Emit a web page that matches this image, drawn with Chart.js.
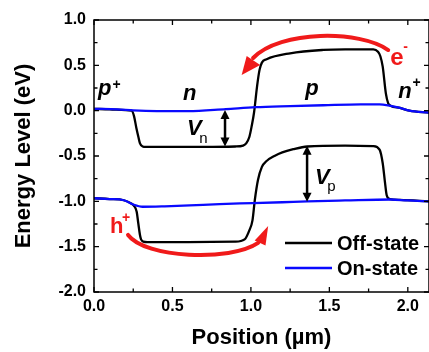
<!DOCTYPE html>
<html>
<head>
<meta charset="utf-8">
<script src="https://cdn.jsdelivr.net/npm/chart.js@4.4.1/dist/chart.umd.min.js"></script>
<style>
html,body{margin:0;padding:0;background:#fff;}
#c{display:block;}
</style>
</head>
<body>
<canvas id="c" width="429" height="352"></canvas>
<script>
// ---- data (position in µm, energy in eV) ----
const offUpperPos = [0, 0.10, 0.20, 0.24, 0.255, 0.27, 0.283, 0.293, 0.31, 0.33, 0.50, 0.70, 0.90, 0.95, 0.97, 0.99, 1.005, 1.02, 1.04, 1.055, 1.07, 1.10, 1.25, 1.46, 1.60, 1.78, 1.81, 1.825, 1.84, 1.86, 1.875, 1.89, 1.95, 2.01, 2.135];
const offUpperE   = [0.02, 0.015, 0.005, 0.00, -0.06, -0.19, -0.29, -0.36, -0.395, -0.40, -0.40, -0.40, -0.395, -0.385, -0.36, -0.29, -0.17, -0.02, 0.28, 0.45, 0.53, 0.567, 0.633, 0.67, 0.677, 0.677, 0.65, 0.60, 0.485, 0.19, 0.08, 0.055, 0.03, 0.00, -0.022];

const offLowerPos = [0, 0.10, 0.19, 0.24, 0.255, 0.272, 0.282, 0.293, 0.30, 0.314, 0.34, 0.60, 0.90, 0.96, 0.99, 1.01, 1.025, 1.045, 1.07, 1.10, 1.15, 1.20, 1.27, 1.36, 1.60, 1.78, 1.82, 1.84, 1.855, 1.865, 1.885, 1.95, 2.135];
const offLowerE   = [-0.966, -0.975, -0.988, -1.027, -1.05, -1.114, -1.239, -1.371, -1.42, -1.445, -1.45, -1.45, -1.445, -1.42, -1.32, -1.21, -0.985, -0.765, -0.62, -0.555, -0.50, -0.46, -0.425, -0.395, -0.385, -0.39, -0.43, -0.58, -0.80, -0.93, -0.975, -0.985, -1.00];

const onUpperPos = [0, 0.15, 0.25, 0.40, 0.60, 0.84, 1.03, 1.25, 1.46, 1.70, 1.82, 1.89, 1.95, 2.01, 2.135];
const onUpperE   = [0.02, 0.015, 0.003, -0.004, -0.004, 0.018, 0.038, 0.05, 0.06, 0.07, 0.07, 0.052, 0.03, 0.00, -0.022];

const onLowerPos = [0, 0.10, 0.19, 0.25, 0.31, 0.45, 0.61, 0.80, 1.01, 1.20, 1.36, 1.60, 1.89, 2.00, 2.135];
const onLowerE   = [-0.966, -0.975, -0.988, -1.035, -1.06, -1.055, -1.045, -1.03, -1.02, -1.01, -1.0, -0.99, -0.98, -0.99, -1.0];

const xTickValues = [0, 0.5, 1.0, 1.5, 2.0];
const yTickValues = [-2.0, -1.5, -1.0, -0.5, 0.0, 0.5, 1.0];
const seriesNames = ['Off-state', 'On-state'];

const FONT = "'Liberation Sans', Arial, sans-serif";
const BLACK = '#000000';
const BLUE = '#0a0aff';
const RED = '#f01a1a';

function pts(xs, ys) { return xs.map((x, i) => ({x: x, y: ys[i]})); }

// ---- annotations (in data units) ----
const texts = [
  {t: 'p', x: 0.026, y: 0.173, size: 22, style: 'italic bold', color: BLACK},
  {t: '+', x: 0.118, y: 0.280, size: 14, style: 'bold', color: BLACK, mid: true},
  {t: 'n', x: 0.568, y: 0.118, size: 22, style: 'italic bold', color: BLACK},
  {t: 'p', x: 1.346, y: 0.173, size: 22, style: 'italic bold', color: BLACK},
  {t: 'n', x: 1.939, y: 0.140, size: 22, style: 'italic bold', color: BLACK},
  {t: '+', x: 2.030, y: 0.305, size: 14, style: 'bold', color: BLACK, mid: true},
  {t: 'e', x: 1.888, y: 0.504, size: 24, style: 'bold', color: RED},
  {t: '-', x: 1.971, y: 0.702, size: 14, style: 'bold', color: RED, mid: true},
  {t: 'h', x: 0.102, y: -1.350, size: 22, style: 'bold', color: RED},
  {t: '+', x: 0.179, y: -1.184, size: 14, style: 'bold', color: RED, mid: true},
  {t: 'V', x: 0.593, y: -0.268, size: 22, style: 'italic bold', color: BLACK},
  {t: 'n', x: 0.670, y: -0.356, size: 15, style: 'normal', color: BLACK},
  {t: 'V', x: 1.409, y: -0.807, size: 22, style: 'italic bold', color: BLACK},
  {t: 'p', x: 1.486, y: -0.886, size: 15, style: 'normal', color: BLACK}
];
const doubleArrows = [
  {x: 0.835, y1: 0.007, y2: -0.395},
  {x: 1.358, y1: -0.387, y2: -1.005}
];
const redArcs = [
  {p0: [1.875, 0.669], c1: [1.696, 0.890], c2: [1.186, 0.890], p3: [1.014, 0.581],
   head: [[0.941, 0.393], [0.973, 0.603], [1.059, 0.504]]},
  {p0: [0.217, -1.371], c1: [0.325, -1.625], c2: [0.867, -1.669], p3: [1.046, -1.459],
   head: [[1.110, -1.272], [1.024, -1.431], [1.093, -1.488]]}
];

const annotPlugin = {
  id: 'annot',
  afterDatasetsDraw(chart) {
    const ctx = chart.ctx, xs = chart.scales.x, ys = chart.scales.y;
    const X = v => xs.getPixelForValue(v), Y = v => ys.getPixelForValue(v);
    ctx.save();
    redArcs.forEach(a => {
      ctx.strokeStyle = RED; ctx.fillStyle = RED; ctx.lineWidth = 4; ctx.lineCap = 'round';
      ctx.beginPath();
      ctx.moveTo(X(a.p0[0]), Y(a.p0[1]));
      ctx.bezierCurveTo(X(a.c1[0]), Y(a.c1[1]), X(a.c2[0]), Y(a.c2[1]), X(a.p3[0]), Y(a.p3[1]));
      ctx.stroke();
      ctx.beginPath();
      ctx.moveTo(X(a.head[0][0]), Y(a.head[0][1]));
      ctx.lineTo(X(a.head[1][0]), Y(a.head[1][1]));
      ctx.lineTo(X(a.head[2][0]), Y(a.head[2][1]));
      ctx.closePath(); ctx.fill();
    });
    doubleArrows.forEach(a => {
      const px = X(a.x), t = Y(a.y1), b = Y(a.y2), hl = 9, hw = 4.5;
      ctx.strokeStyle = BLACK; ctx.fillStyle = BLACK; ctx.lineWidth = 2.5; ctx.lineCap = 'butt';
      ctx.beginPath(); ctx.moveTo(px, t + hl - 1); ctx.lineTo(px, b - hl + 1); ctx.stroke();
      ctx.beginPath(); ctx.moveTo(px, t); ctx.lineTo(px - hw, t + hl); ctx.lineTo(px + hw, t + hl); ctx.closePath(); ctx.fill();
      ctx.beginPath(); ctx.moveTo(px, b); ctx.lineTo(px - hw, b - hl); ctx.lineTo(px + hw, b - hl); ctx.closePath(); ctx.fill();
    });
    texts.forEach(o => {
      ctx.fillStyle = o.color;
      ctx.font = o.style + ' ' + o.size + 'px ' + FONT;
      ctx.textAlign = 'left';
      ctx.textBaseline = o.mid ? 'middle' : 'alphabetic';
      ctx.fillText(o.t, X(o.x), Y(o.y));
    });
    ctx.restore();
  },
  afterDraw(chart) {
    const ctx = chart.ctx, a = chart.chartArea, xs = chart.scales.x, ys = chart.scales.y;
    ctx.save();
    ctx.strokeStyle = '#000'; ctx.lineWidth = 1.5;
    ctx.strokeRect(a.left, a.top, a.right - a.left, a.bottom - a.top);
    ctx.lineWidth = 1.3;
    for (let v = xs.min; v <= xs.max + 1e-9; v += 0.25) {
      const px = xs.getPixelForValue(v);
      const L = (Math.abs(v / 0.5 - Math.round(v / 0.5)) < 1e-6) ? 5 : 3.5;
      ctx.beginPath();
      ctx.moveTo(px, a.bottom); ctx.lineTo(px, a.bottom - L);
      ctx.moveTo(px, a.top); ctx.lineTo(px, a.top + L);
      ctx.stroke();
    }
    for (let v = ys.min; v <= ys.max + 1e-9; v += 0.25) {
      const py = ys.getPixelForValue(v);
      const L = (Math.abs(v / 0.5 - Math.round(v / 0.5)) < 1e-6) ? 5 : 3.5;
      ctx.beginPath();
      ctx.moveTo(a.left, py); ctx.lineTo(a.left + L, py);
      ctx.moveTo(a.right, py); ctx.lineTo(a.right - L, py);
      ctx.stroke();
    }
    const lx1 = 285, lx2 = 332, tx = 337;
    const rows = [{name: seriesNames[0], color: BLACK, y: 243}, {name: seriesNames[1], color: BLUE, y: 268}];
    ctx.font = 'bold 20px ' + FONT; ctx.textAlign = 'left'; ctx.textBaseline = 'middle';
    rows.forEach(r => {
      ctx.strokeStyle = r.color; ctx.lineWidth = 2.5;
      ctx.beginPath(); ctx.moveTo(lx1, r.y); ctx.lineTo(lx2, r.y); ctx.stroke();
      ctx.fillStyle = '#000'; ctx.fillText(r.name, tx, r.y + 1);
    });
    ctx.restore();
  }
};

const common = {pointRadius: 0, borderWidth: 2.3, fill: false, cubicInterpolationMode: 'monotone'};

new Chart(document.getElementById('c'), {
  type: 'line',
  data: {
    datasets: [
      Object.assign({label: seriesNames[0], data: pts(offUpperPos, offUpperE), borderColor: BLACK, order: 1}, common),
      Object.assign({label: seriesNames[0], data: pts(offLowerPos, offLowerE), borderColor: BLACK, order: 1}, common),
      Object.assign({label: seriesNames[1], data: pts(onUpperPos, onUpperE), borderColor: BLUE, order: 0}, common),
      Object.assign({label: seriesNames[1], data: pts(onLowerPos, onLowerE), borderColor: BLUE, order: 0}, common)
    ]
  },
  options: {
    responsive: false,
    animation: false,
    events: [],
    layout: {padding: {top: 20, right: 0, left: 0, bottom: 0}},
    plugins: {legend: {display: false}, tooltip: {enabled: false}},
    scales: {
      x: {
        type: 'linear', min: 0, max: 2.135,
        grid: {display: false, drawTicks: false},
        border: {display: false},
        afterBuildTicks: s => { s.ticks = xTickValues.map(v => ({value: v})); },
        afterFit: s => { s.height = 60; },
        ticks: {color: '#000', padding: 5, maxRotation: 0, autoSkip: false,
                font: {family: FONT, size: 16, weight: 'bold'},
                callback: v => Number(v).toFixed(1)},
        title: {display: true, text: 'Position (\u00b5m)', color: '#000',
                font: {family: FONT, size: 22, weight: 'bold'}, padding: {top: 0, bottom: 1}}
      },
      y: {
        type: 'linear', min: -2, max: 1,
        grid: {display: false, drawTicks: false},
        border: {display: false},
        afterBuildTicks: s => { s.ticks = yTickValues.map(v => ({value: v})); },
        afterFit: s => { s.width = 94; },
        ticks: {color: '#000', padding: 8, autoSkip: false,
                font: {family: FONT, size: 16, weight: 'bold'},
                callback: v => Number(v).toFixed(1)},
        title: {display: true, text: 'Energy Level (eV)', color: '#000',
                font: {family: FONT, size: 22, weight: 'bold'}, padding: {top: 11, bottom: 0}}
      }
    }
  },
  plugins: [annotPlugin]
});
</script>
</body>
</html>
